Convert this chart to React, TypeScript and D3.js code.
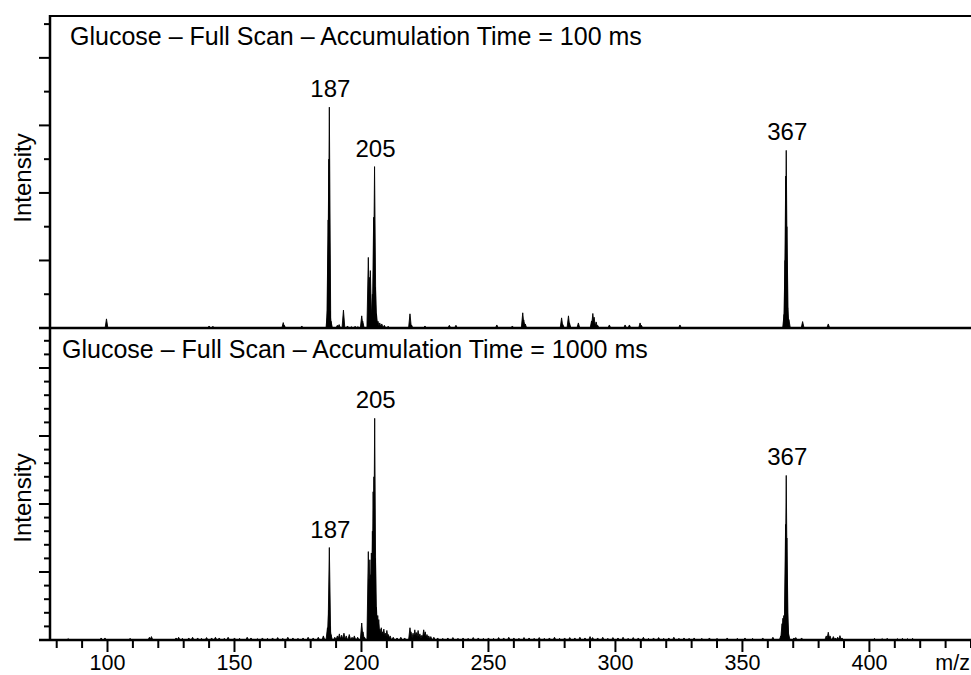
import React from "react";
import * as d3 from "d3";

// ---------- Data ----------
// Top spectrum (accumulation 100 ms): m/z and relative intensity
const topMz = [
  99.6, 140.0, 141.5, 169.2, 169.6, 176.5,
  186.6, 186.9, 187.15, 187.35, 187.6, 188.0,
  190.5, 191.2, 192.9, 194.5, 196.0, 197.5, 198.6,
  200.1, 200.5, 202.7, 203.1, 203.5, 204.3, 204.8, 205.15, 205.5, 205.9,
  206.5, 207.2, 208.0, 209.0, 210.5,
  219.1, 219.7, 225.0, 234.6, 237.2, 253.3, 259.4,
  263.5, 263.9, 264.5,
  278.8, 279.3, 281.5, 281.9, 285.4,
  290.6, 291.1, 291.6, 292.4, 293.0,
  297.6, 303.8, 305.5, 309.7, 310.2, 325.4,
  366.4, 366.8, 367.05, 367.25, 367.5, 367.8, 368.3,
  373.7, 383.8,
];
const topInt = [
  2.7, 0.6, 0.5, 1.6, 0.8, 0.6,
  5.0, 32, 50, 65.4, 5.0, 2.0,
  0.8, 1.0, 5.3, 0.6, 0.4, 0.5, 0.4,
  3.6, 2.0, 20.9, 15, 17, 10, 32.8, 47.8, 12, 4.2,
  2.0, 1.5, 1.2, 0.8, 0.5,
  4.2, 0.9, 0.6, 0.8, 0.8, 0.9, 0.6,
  4.5, 2.4, 1.2,
  3.0, 1.0, 3.6, 1.5, 1.5,
  2.1, 4.3, 3.2, 1.8, 0.8,
  0.9, 0.9, 0.9, 1.5, 0.8, 0.9,
  4.0, 20, 45, 52.6, 30, 6, 2.5,
  1.9, 1.2,
];

// Bottom spectrum (accumulation 1000 ms)
const bottomMz = [
  84.5, 97.5, 99.0, 108.9, 116.5, 117.3,
  127.0, 128.0, 129.5, 132.0, 133.5, 135.5, 137.0, 139.0, 141.0, 142.5, 144.0, 146.0, 147.5,
  150.0, 152.0, 155.0, 156.5, 159.0, 161.0, 163.0, 165.0, 167.0, 169.0, 171.0, 173.0, 175.0,
  177.0, 179.0, 181.0, 183.0, 185.0,
  186.6, 187.1, 187.35, 187.6, 188.0,
  189.5, 190.5, 191.3, 192.2, 193.1, 194.0, 195.2, 196.3, 197.2, 198.5,
  200.1, 200.6, 201.2,
  202.7, 203.0, 203.3, 203.65, 203.9, 204.3, 204.6, 204.9, 205.2, 205.5, 205.9, 206.4, 206.8,
  207.3, 207.8, 208.3, 208.8, 209.4, 210.0, 210.6, 211.3, 212.5, 214.0, 215.5, 217.0,
  219.1, 219.5, 220.3, 221.0, 221.6, 222.3, 223.0, 223.8, 224.5, 225.1, 225.8, 226.5, 227.3, 228.5,
  230, 232, 234, 236, 238, 240, 242, 244, 246, 248, 250, 252, 254, 256, 258, 260,
  262, 264, 266, 268, 270, 272, 274, 276, 278, 280, 282, 284, 286, 288, 290, 291,
  293, 295, 297, 299, 301, 303, 305, 307, 309, 311, 313, 315, 317, 319, 321, 323,
  325, 327, 329, 331, 334, 337, 340, 344, 348, 351, 354, 358, 362,
  365.1, 365.6, 365.95, 366.3, 366.7, 367.0, 367.25, 367.5, 367.75, 368.2,
  370.3, 371.0, 373.3,
  383.0, 383.8, 384.5, 385.8, 386.6, 387.5, 388.4, 389.2,
  402, 405, 407, 411, 413, 415, 417,
];
const bottomInt = [
  0.1, 0.15, 0.15, 0.12, 0.2, 0.25,
  0.15, 0.2, 0.12, 0.15, 0.2, 0.15, 0.12, 0.18, 0.15, 0.2, 0.15, 0.12, 0.2,
  0.15, 0.12, 0.2, 0.15, 0.1, 0.15, 0.12, 0.15, 0.18, 0.12, 0.2, 0.15, 0.12,
  0.15, 0.2, 0.15, 0.2, 0.3,
  0.9, 2.2, 6.8, 1.0, 0.4,
  0.2, 0.3, 0.45, 0.35, 0.5, 0.3, 0.4, 0.2, 0.3, 0.2,
  1.25, 0.6, 0.2,
  6.5, 4.5, 5.9, 4.8, 6.4, 8.0, 10.9, 12, 16.3, 6, 2.4, 1.8, 1.5,
  0.8, 0.9, 0.6, 0.8, 0.5, 0.7, 0.4, 0.3, 0.2, 0.15, 0.2, 0.15,
  0.9, 0.6, 0.5, 0.75, 0.55, 0.7, 0.45, 0.35, 0.75, 0.6, 0.4, 0.3, 0.25, 0.2,
  0.15, 0.12, 0.15, 0.18, 0.12, 0.15, 0.12, 0.18, 0.15, 0.12, 0.15, 0.12, 0.18, 0.15, 0.2, 0.15,
  0.12, 0.18, 0.15, 0.12, 0.18, 0.12, 0.15, 0.2, 0.12, 0.15, 0.18, 0.15, 0.2, 0.15, 0.25, 0.18,
  0.15, 0.2, 0.12, 0.18, 0.15, 0.2, 0.12, 0.18, 0.15, 0.2, 0.12, 0.15, 0.18, 0.12, 0.15, 0.2,
  0.12, 0.15, 0.12, 0.15, 0.12, 0.15, 0.12, 0.15, 0.12, 0.15, 0.12, 0.15, 0.2,
  0.3, 1.2, 1.6, 1.8, 1.4, 8.5, 12.1, 7.5, 2.0, 0.4,
  0.15, 0.18, 0.15,
  0.3, 0.57, 0.3, 0.25, 0.15, 0.2, 0.32, 0.15,
  0.12, 0.1, 0.12, 0.1, 0.12, 0.1, 0.12,
];

const topLabelMz = [187, 205, 367];
const bottomLabelMz = [187, 205, 367];

const xTickLabels = [100, 150, 200, 250, 300, 350, 400];
const xMinorTicks = [80, 90, 100, 110, 120, 130, 140, 150, 160, 170, 180, 190, 200, 210, 220, 230, 240, 250, 260, 270, 280, 290, 300, 310, 320, 330, 340, 350, 360, 370, 380, 390, 400, 410, 420, 430, 440];
const topYTicks = [0, 10, 20, 30, 40, 50, 60, 70, 80, 90];
const bottomYTicks = [0, 1, 2, 3, 4, 5, 6, 7, 8, 9, 10, 11, 12, 13, 14, 15, 16, 17, 18, 19, 20, 21, 22];

const topTitle = "Glucose – Full Scan – Accumulation Time = 100 ms";
const bottomTitle = "Glucose – Full Scan – Accumulation Time = 1000 ms";

// ---------- Layout ----------
const W = 971;
const H = 675;
const FONT = "'Liberation Sans', Arial, sans-serif";
const AX_X = 50;
const TOP_Y = 16;
const MID_Y = 328;
const BOT_Y = 640;

const x = d3.scaleLinear().domain([77.36, 440]).range([AX_X, W]);
const yTop = d3.scaleLinear().domain([0, 92.4]).range([MID_Y, TOP_Y]);
const yBot = d3.scaleLinear().domain([0, (BOT_Y - MID_Y) / 13.6]).range([BOT_Y, MID_Y]);

const HW = 1.4;

function peaksPath(mz: number[], inten: number[], y: d3.ScaleLinear<number, number>) {
  const p = d3.path();
  const y0 = y(0);
  mz.forEach((m, i) => {
    const px = x(m);
    p.moveTo(px - HW, y0);
    p.lineTo(px, y(inten[i]));
    p.lineTo(px + HW, y0);
    p.closePath();
  });
  return p.toString();
}

function labelPos(mz: number[], inten: number[], target: number) {
  let best = -1;
  let bi = 0;
  mz.forEach((m, i) => {
    if (Math.abs(m - target) <= 1.2 && inten[i] > best) {
      best = inten[i];
      bi = i;
    }
  });
  return { m: mz[bi], v: best };
}

export default function App() {
  const topPeaks = topLabelMz.map((t) => labelPos(topMz, topInt, t));
  const botPeaks = bottomLabelMz.map((t) => labelPos(bottomMz, bottomInt, t));
  return (
    <svg
      width={W}
      height={H}
      style={{ position: "absolute", left: 0, top: 0, display: "block", background: "#fff" }}
      fontFamily={FONT}
    >
      <rect x={0} y={0} width={W} height={H} fill="#fff" />
      {/* spectra */}
      <path d={peaksPath(topMz, topInt, yTop)} fill="#000" stroke="#000" strokeWidth={0.9} strokeLinejoin="round" />
      <path d={peaksPath(bottomMz, bottomInt, yBot)} fill="#000" stroke="#000" strokeWidth={0.9} strokeLinejoin="round" />

      {/* frame lines */}
      <line x1={AX_X} x2={W} y1={TOP_Y} y2={TOP_Y} stroke="#000" strokeWidth={2.2} />
      <line x1={AX_X - 11} x2={W} y1={MID_Y} y2={MID_Y} stroke="#000" strokeWidth={2.6} />
      <line x1={AX_X - 11} x2={W} y1={BOT_Y} y2={BOT_Y} stroke="#000" strokeWidth={2.6} />
      <line x1={AX_X} x2={AX_X} y1={TOP_Y - 1} y2={BOT_Y + 1} stroke="#000" strokeWidth={2.5} />

      {/* top y ticks */}
      {topYTicks.map((t) => (
        <line key={"ty" + t} x1={t % 20 === 0 ? AX_X - 11 : AX_X - 6} x2={AX_X} y1={yTop(t)} y2={yTop(t)} stroke="#000" strokeWidth={2} />
      ))}
      {/* bottom y ticks */}
      {bottomYTicks.map((t) => (
        <line key={"by" + t} x1={t % 5 === 0 ? AX_X - 11 : AX_X - 6} x2={AX_X} y1={yBot(t)} y2={yBot(t)} stroke="#000" strokeWidth={2} />
      ))}
      {/* x ticks */}
      {xMinorTicks.map((t) => (
        <line key={"xt" + t} x1={x(t)} x2={x(t)} y1={BOT_Y} y2={t % 50 === 0 ? BOT_Y + 12 : BOT_Y + 8} stroke="#000" strokeWidth={2} />
      ))}
      {xTickLabels.map((t) => (
        <text key={"xl" + t} x={x(t)} y={670} textAnchor="middle" fontSize={21.5} fill="#000">
          {t}
        </text>
      ))}
      <text x={970} y={670} textAnchor="end" fontSize={21.5} fill="#000">m/z</text>

      {/* y labels */}
      <text transform={`translate(31,178) rotate(-90)`} textAnchor="middle" fontSize={24} fill="#000">Intensity</text>
      <text transform={`translate(31,498) rotate(-90)`} textAnchor="middle" fontSize={24} fill="#000">Intensity</text>

      {/* titles */}
      <text x={70} y={44.5} fontSize={25} fill="#000">{topTitle}</text>
      <text x={62} y={358} fontSize={25} fill="#000">{bottomTitle}</text>

      {/* peak labels */}
      {topPeaks.map((p, i) => (
        <text key={"tl" + i} x={x(p.m) + 1} y={yTop(p.v) - 10} textAnchor="middle" fontSize={24} fill="#000">
          {topLabelMz[i]}
        </text>
      ))}
      {botPeaks.map((p, i) => (
        <text key={"bl" + i} x={x(p.m) + 1} y={yBot(p.v) - 10} textAnchor="middle" fontSize={24} fill="#000">
          {bottomLabelMz[i]}
        </text>
      ))}
    </svg>
  );
}
